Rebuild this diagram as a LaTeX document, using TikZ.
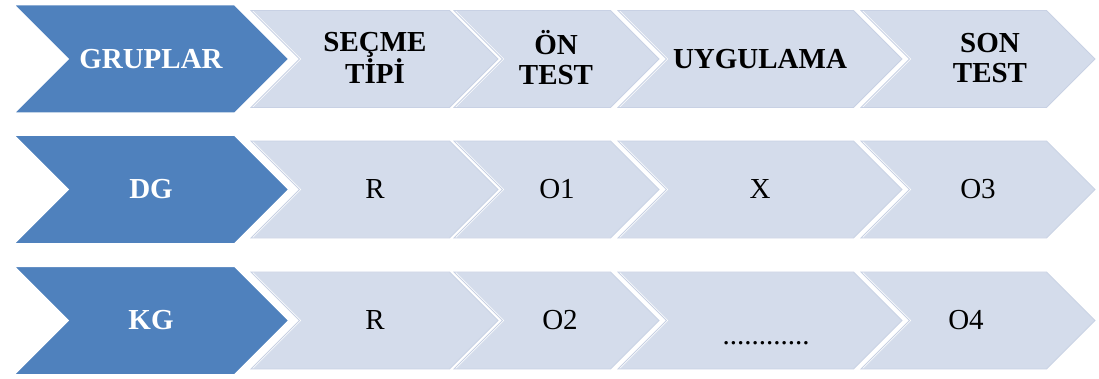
\documentclass[tikz,border=0pt]{standalone}
\usepackage{fontspec}
\setmainfont{Liberation Serif}
\definecolor{darkblue}{HTML}{4F81BD}
\definecolor{lightblue}{HTML}{D4DCEB}
\definecolor{lightedge}{HTML}{C8D1E4}
\tikzset{
  darkchev/.style={fill=darkblue, draw=white, line width=3pt, line join=miter},
  lightchev/.style={fill=lightblue, draw=white, line width=3pt, line join=miter},
  headtxt/.style={font=\fontsize{29}{30}\selectfont\bfseries, align=center, text=black, inner sep=0pt},
  grptxt/.style={font=\fontsize{29}{30}\selectfont\bfseries, text=white, inner sep=0pt},
  celltxt/.style={font=\fontsize{29}{30}\selectfont, text=black, inner sep=0pt},
}
% chevron: left x, tip x, mid y, half height
\newcommand{\chevpath}[4]{(#1,#3-#4) -- (#2-#4,#3-#4) -- (#2,#3) -- (#2-#4,#3+#4) -- (#1,#3+#4) -- (#1+#4,#3) -- cycle}
\begin{document}
\begin{tikzpicture}[x=1pt,y=-1pt]
\useasboundingbox (0,0) rectangle (1099,379);
\foreach \m in {59,189.5,320.5}{
  \draw[lightchev] \chevpath{249}{500}{\m}{50};
  \draw[lightedge, line width=0.8pt] \chevpath{251}{498}{\m}{48.5};
  \draw[lightchev] \chevpath{452}{661}{\m}{50};
  \draw[lightedge, line width=0.8pt] \chevpath{454}{659}{\m}{48.5};
  \draw[lightchev] \chevpath{616}{904}{\m}{50};
  \draw[lightedge, line width=0.8pt] \chevpath{618}{902}{\m}{48.5};
  \draw[lightchev] \chevpath{859}{1097}{\m}{50};
  \draw[lightedge, line width=0.8pt] \chevpath{861}{1095}{\m}{48.5};
  \draw[darkchev] \chevpath{12}{290}{\m}{55};
}
% header row
\node[grptxt] (g0) at (151,59) {GRUPLAR};
\node[headtxt] (h1) at (375,58) {SEÇME\\TİPİ};
\node[headtxt] (h2) at (556,58) {ÖN\\TEST};
\node[headtxt] (h3) at (760,59) {UYGULAMA};
\node[headtxt] (h4) at (990,58) {SON\\TEST};
% DG row
\node[grptxt] (g1) at (151,189.5) {DG};
\node[celltxt] (r1) at (375,189.5) {R};
\node[celltxt] (o1) at (557,189.5) {O1};
\node[celltxt] (x1) at (760,189.5) {X};
\node[celltxt] (o3) at (978,189.5) {O3};
% KG row
\node[grptxt] (g2) at (151,320.5) {KG};
\node[celltxt] (r2) at (375,320.5) {R};
\node[celltxt] (o2) at (560,320.5) {O2};
\node[celltxt, anchor=base] (dots) at (766,344) {............};
\node[celltxt] (o4) at (966,320.5) {O4};
\end{tikzpicture}
\end{document}
